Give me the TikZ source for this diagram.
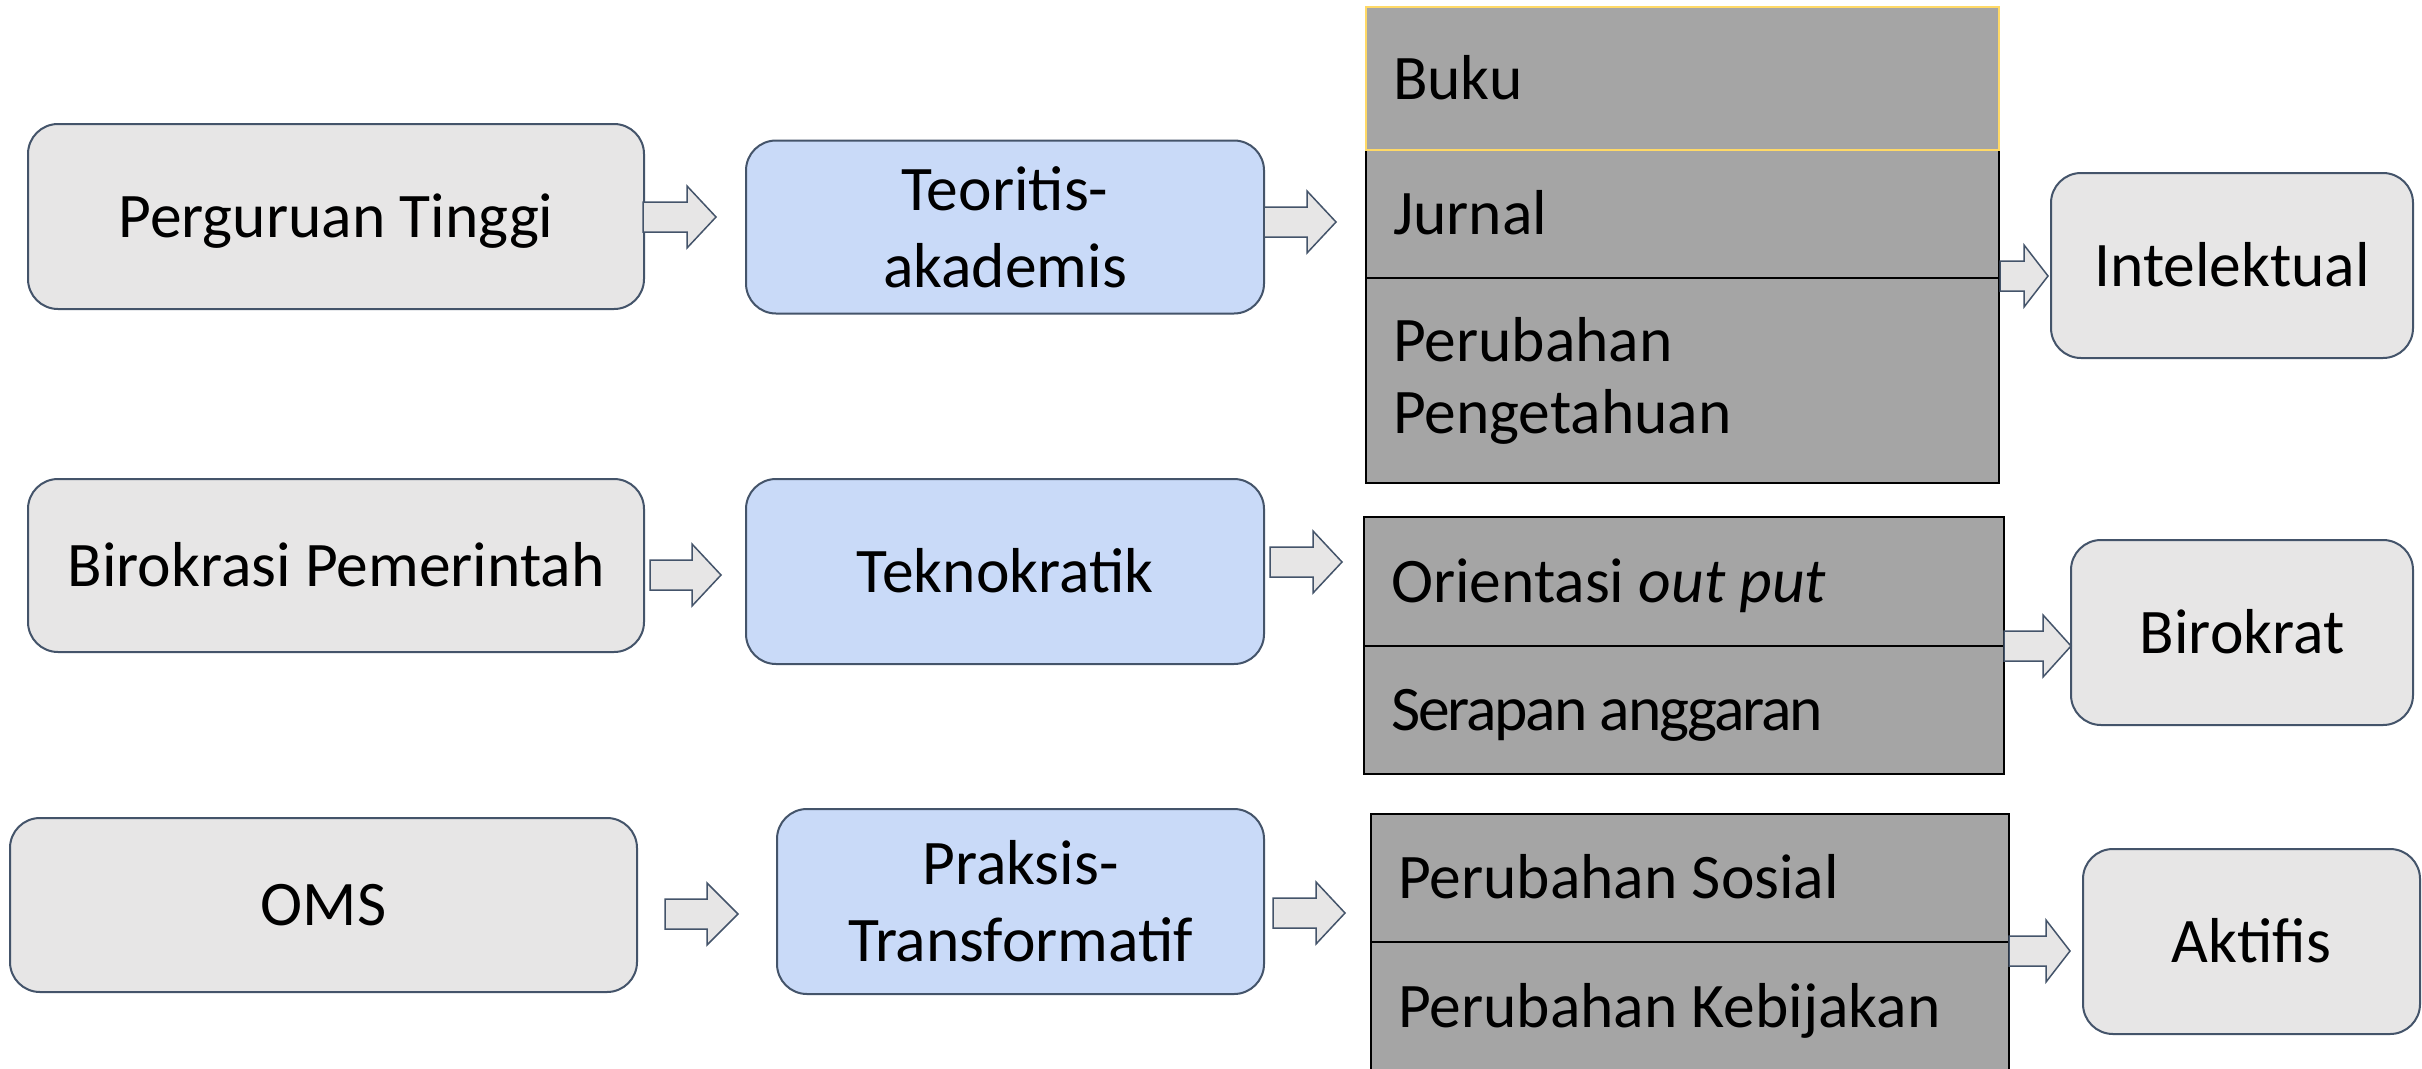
\documentclass[tikz,border=0pt]{standalone}
\usepackage{fontspec}
\setmainfont{Carlito}
\definecolor{boxgray}{HTML}{E7E6E6}
\definecolor{boxblue}{HTML}{C9DAF8}
\definecolor{edgec}{HTML}{44546A}
\definecolor{cellgray}{HTML}{A5A5A5}
\definecolor{bukuedge}{HTML}{FFD966}
\newcommand\blockarr[3]{\draw[barrow] (#1) ++(0,-15) -- ++(#2,0) -- ++(0,-16) -- ++({#3-#2},31) -- ++({#2-#3},31) -- ++(0,-16) -- ++(-#2,0) -- cycle;}
\begin{document}
\begin{tikzpicture}[x=1pt,y=-1pt,
  lbl/.style={font=\fontsize{63.5}{77}\selectfont},
  rbox/.style={lbl, draw=edgec, line width=2pt, rounded corners=30pt, align=center, inner sep=0pt},
  gbox/.style={rbox, fill=boxgray},
  bbox/.style={rbox, fill=boxblue},
  one/.style={text height=41pt, text depth=0pt},
  cell/.style={lbl, draw=black, line width=2.5pt, fill=cellgray, inner xsep=27pt, inner ysep=0pt, align=left,
    execute at begin node={\spaceskip=0pt\xspaceskip=0pt\relax}},
  barrow/.style={draw=edgec, fill=boxgray, line width=1.5pt, line join=miter}
]
\clip (0,0) rectangle (2422,1068);
\fill[white] (0,0) rectangle (2422,1068);

% row 1
\node[gbox, one, minimum width=616pt, minimum height=185pt] (pt) at (336,216.5) {Perguruan Tinggi};
\node[bbox, minimum width=518pt, minimum height=173pt] (teo) at (1005,227) {Teoritis-\\akademis};
\node[cell, one, text width=579pt, minimum height=128pt] (jurnal) at (1682.5,214) {Jurnal};
\node[cell, text width=579pt, minimum height=205pt, font=\fontsize{63.5}{72}\selectfont] (pengetahuan) at (1682.5,380.5) {Perubahan\\Pengetahuan};
\node[cell, one, draw=bukuedge, line width=2pt, text width=579pt, minimum height=143pt] (buku) at (1682.5,78.5) {Buku};
\node[gbox, one, minimum width=362pt, minimum height=185pt] (intel) at (2232,265.5) {Intelektual};

% row 2
\node[gbox, one, minimum width=616pt, minimum height=173pt] (biro) at (336,565.5) {Birokrasi Pemerintah};
\node[bbox, one, minimum width=518pt, minimum height=185pt] (tekno) at (1005,571.5) {Teknokratik};
\node[cell, one, text width=586pt, minimum height=129pt] (orient) at (1684,581.5) {Orientasi \textit{out put}};
\node[cell, one, text width=586pt, minimum height=128pt] (serapan) at (1684,710) {\addfontfeature{LetterSpace=-3.3}Serapan anggaran};
\node[gbox, one, minimum width=342pt, minimum height=185pt] (birokrat) at (2242,632.5) {Birokrat};

% row 3
\node[gbox, one, minimum width=627pt, minimum height=174pt] (oms) at (323.5,905) {OMS};
\node[bbox, minimum width=487pt, minimum height=185pt] (praksis) at (1020.5,901.5) {Praksis-\\Transformatif};
\node[cell, one, text width=584pt, minimum height=128pt] (sosial) at (1690,878) {Perubahan Sosial};
\node[cell, one, text width=584pt, minimum height=130pt] (kebijakan) at (1690,1007) {Perubahan Kebijakan};
\node[gbox, one, minimum width=337pt, minimum height=185pt] (aktifis) at (2251.5,941.5) {Aktifis};

% block arrows
\coordinate (a1) at (643,217);
\coordinate (a2) at (1264,222);
\coordinate (a3) at (2000,276);
\coordinate (b1) at (650,575);
\coordinate (b2) at (1270,562);
\coordinate (b3) at (2004,646);
\coordinate (c1) at (665,914);
\coordinate (c2) at (1273,913);
\coordinate (c3) at (2009,951);
\blockarr{a1}{44}{73}
\blockarr{a2}{43}{72}
\blockarr{a3}{24}{48}
\blockarr{b1}{42}{71}
\blockarr{b2}{43}{72}
\blockarr{b3}{39}{67}
\blockarr{c1}{42}{73}
\blockarr{c2}{43}{72}
\blockarr{c3}{37}{61}
\end{tikzpicture}
\end{document}
